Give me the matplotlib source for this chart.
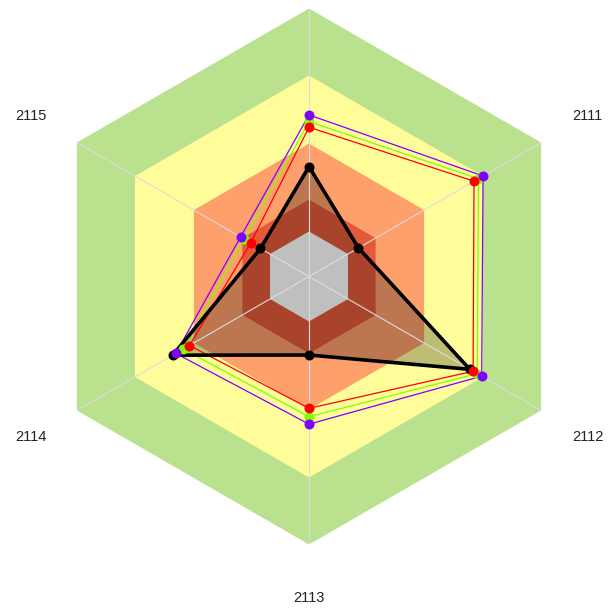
import numpy as np
import matplotlib
matplotlib.use("Agg")
import matplotlib.pyplot as plt

# axes, clockwise from the top (top label falls outside the picture)
labels = ["", "2111", "2112", "2113", "2114", "2115"]

# hexagonal bands: inner / outer edge on a 0-100 scale
band_edges = [16.8, 28.7, 49.6, 75.0, 100.0]
band_colors = ["#e25a3b", "#fda06b", "#fffd9a", "#bae18d"]

# series values
black_vals = [41.0, 21.3, 69.3, 29.3, 58.7, 20.9]
green_vals = [57.8, 73.0, 72.5, 52.3, 54.2, 28.0]
red_vals = [55.7, 71.1, 70.7, 49.2, 51.5, 25.1]
purple_vals = [60.3, 75.0, 74.4, 55.1, 57.4, 29.5]

plt.rcParams['font.family'] = ['Liberation Sans', 'DejaVu Sans']

n = len(labels)
theta = np.linspace(0, 2 * np.pi, n, endpoint=False)
theta_c = np.append(theta, theta[0])


def closed(vals):
    return np.append(vals, vals[0])


fig = plt.figure(figsize=(6.09, 6.10), dpi=100)
ax = fig.add_axes([41 / 609, 65.5 / 610, 536 / 609, 536 / 610], projection='polar')
ax.set_theta_offset(np.pi / 2)
ax.set_theta_direction(-1)
ax.set_ylim(0, 100)
ax.axis('off')

# bands: draw outer hexagons first, inner hole stays white
for i in range(len(band_colors) - 1, -1, -1):
    ax.fill(theta_c, np.full(n + 1, band_edges[i + 1]), color=band_colors[i],
            lw=0, zorder=1)
ax.fill(theta_c, np.full(n + 1, band_edges[0]), color='white', lw=0, zorder=1)

# black series area
ax.fill(theta_c, closed(black_vals), color='black', alpha=0.25, lw=0, zorder=2)

# spokes
for t in theta:
    ax.plot([t, t], [0, band_edges[-1]], color='#dcdcdc', lw=0.8, zorder=3)

# lines
for vals, col in [(green_vals, '#80ff00'), (red_vals, '#ff0000'),
                  (purple_vals, '#8000ff')]:
    ax.plot(theta_c, closed(vals), color=col, lw=0.9, zorder=4)
ax.plot(theta_c, closed(black_vals), color='black', lw=2.6, zorder=5)

# markers
for vals, col in [(black_vals, 'black'), (green_vals, '#80ff00'),
                  (red_vals, '#ff0000'), (purple_vals, '#8000ff')]:
    ax.plot(theta, vals, 'o', color=col, ms=7.2, mec='none', zorder=6)

for t, lab in zip(theta, labels):
    if lab:
        ax.text(t, 120, lab, ha='center', va='center', fontsize=10.5,
                color='#222222')

fig.savefig('out.png', dpi=100)
